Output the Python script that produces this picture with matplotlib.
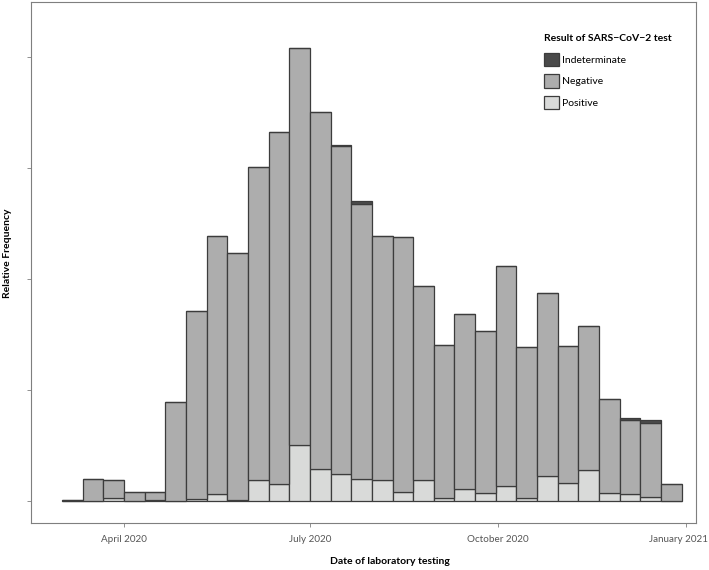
import numpy as np
import matplotlib
matplotlib.use('Agg')
import matplotlib.pyplot as plt
import matplotlib.dates as mdates
import matplotlib.transforms as mtransforms
from matplotlib.patches import Patch

plt.rcParams['font.family'] = ['Lato', 'DejaVu Sans']

# relative frequency per 10-day bin (Mar 2020 - Dec 2020)
positive = [0.0, 0.0, 0.0006, 0.0, 0.0001, 0.0, 0.0004, 0.0012, 0.0001, 0.0037,
            0.0031, 0.0101, 0.0058, 0.0049, 0.0040, 0.0037, 0.0016, 0.0037, 0.0005, 0.0022,
            0.0014, 0.0027, 0.0006, 0.0045, 0.0032, 0.0056, 0.0015, 0.0013, 0.0008, 0.0]
negative = [0.0001, 0.0040, 0.0032, 0.0017, 0.0016, 0.0178, 0.0339, 0.0466, 0.0446, 0.0565,
            0.0634, 0.0716, 0.0642, 0.0590, 0.0495, 0.0440, 0.0459, 0.0350, 0.0276, 0.0315,
            0.0293, 0.0396, 0.0271, 0.0330, 0.0248, 0.0260, 0.0168, 0.0133, 0.0133, 0.0030]
indeterminate = [0.0, 0.0, 0.0, 0.0, 0.0, 0.0, 0.0, 0.0, 0.0, 0.0,
                 0.0, 0.0, 0.0, 0.0003, 0.0006, 0.0, 0.0, 0.0, 0.0, 0.0,
                 0.0, 0.0, 0.0, 0.0, 0.0, 0.0, 0.0, 0.0003, 0.0005, 0.0]

tick_dates = ['2020-04-01', '2020-07-01', '2020-10-01', '2021-01-01']
tick_labels = ['April 2020', 'July 2020', 'October 2020', 'January 2021']

col_pos = '#d9dad9'
col_neg = '#adadad'
col_ind = '#4a4a4a'
edge = '#3c3c3c'

apr1 = mdates.date2num(np.datetime64('2020-04-01'))
edges = np.linspace(apr1 - 30.33, apr1 + 273, len(negative) + 1)
width = edges[1] - edges[0]

pos = np.array(positive)
neg = np.array(negative)
ind = np.array(indeterminate)

fig = plt.figure(figsize=(7.09, 5.70), dpi=100)
ax = fig.add_axes([31 / 709, 47 / 570, 665 / 709, 521 / 570])

kw = dict(width=width, align='edge', edgecolor=edge, linewidth=0.9)
ax.bar(edges[:-1], pos, color=col_pos, **kw)
ax.bar(edges[:-1], neg, bottom=pos, color=col_neg, **kw)
ax.bar(edges[:-1], ind, bottom=pos + neg, color=col_ind, **kw)

ax.set_xlim(apr1 - 45.5, apr1 + 280)
ax.set_ylim(-0.00396, 0.0899)

ax.set_xticks([mdates.date2num(np.datetime64(d)) for d in tick_dates])
ax.set_xticklabels(tick_labels)
ax.set_yticks([0, 0.02, 0.04, 0.06, 0.08])
ax.set_yticklabels([])
ax.tick_params(axis='both', length=3, width=0.6, color='#7f7f7f',
               labelcolor='#555555', labelsize=7.1)
ax.tick_params(axis='x', pad=6)
for s in ax.spines.values():
    s.set_color('#7f7f7f')
    s.set_linewidth(0.8)

# keep the last date label inside the figure
last = ax.get_xticklabels()[-1]
last.set_transform(last.get_transform() +
                   mtransforms.ScaledTranslation(-7 / 100, 0, fig.dpi_scale_trans))

ax.set_xlabel('Date of laboratory testing', fontsize=7.5, fontweight='bold')
ax.xaxis.set_label_coords(0.54, -0.066)
ax.set_ylabel('Relative Frequency', fontsize=7.5, fontweight='bold')
ax.yaxis.set_label_coords(-0.029, 0.517)

handles = [Patch(facecolor=col_ind, edgecolor=edge, linewidth=0.9, label='Indeterminate'),
           Patch(facecolor=col_neg, edgecolor=edge, linewidth=0.9, label='Negative'),
           Patch(facecolor=col_pos, edgecolor=edge, linewidth=0.9, label='Positive')]
leg = ax.legend(handles=handles, title='Result of SARS\u2212CoV\u22122 test',
                loc='upper left', bbox_to_anchor=(0.765, 0.947), frameon=False,
                fontsize=7.5, title_fontsize=7.5, handlelength=1.45, handleheight=1.65,
                labelspacing=0.75, handletextpad=0.3, borderaxespad=0)
leg.get_title().set_fontweight('bold')
leg._legend_box.align = 'left'
leg._legend_box.sep = 7

fig.savefig('out.png', dpi=100)
